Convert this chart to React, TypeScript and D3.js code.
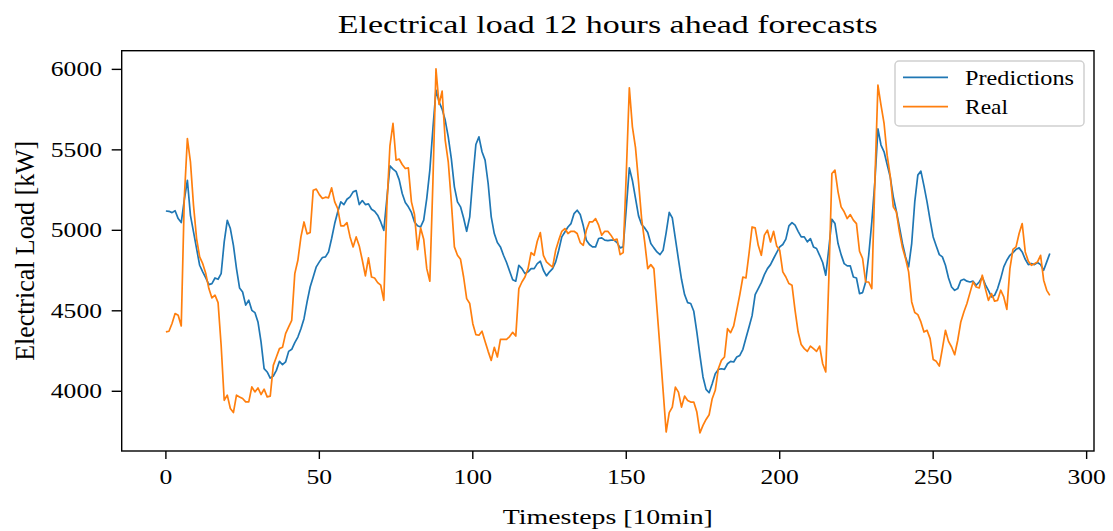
import React from "react";
import * as d3 from "d3";

const predictions: number[] = [
  5120, 5118, 5110, 5122, 5073, 5048, 5190, 5311, 5093, 4990,
  4886, 4783, 4742, 4704, 4663, 4669, 4704, 4696, 4731, 4928,
  5062, 5011, 4907, 4762, 4642, 4617, 4535, 4566, 4503, 4489,
  4431, 4307, 4141, 4120, 4082, 4095, 4130, 4186, 4165, 4182,
  4248, 4261, 4302, 4337, 4389, 4451, 4555, 4648, 4710, 4773,
  4804, 4831, 4835, 4866, 4949, 5042, 5115, 5177, 5160, 5193,
  5208, 5239, 5247, 5160, 5185, 5160, 5164, 5131, 5119, 5094,
  5052, 5000, 5198, 5400, 5380, 5365, 5315, 5229, 5173, 5146,
  5111, 5052, 5028, 5021, 5063, 5198, 5374, 5633, 5871, 5799,
  5753, 5685, 5581, 5446, 5270, 5177, 5146, 5077, 4994, 5084,
  5322, 5533, 5581, 5488, 5436, 5291, 5084, 4980, 4924, 4897,
  4845, 4800, 4746, 4693, 4684, 4783, 4762, 4731, 4742, 4762,
  4762, 4793, 4808, 4752, 4717, 4742, 4762, 4804, 4876, 4959,
  4990, 5021, 5042, 5104, 5125, 5098, 5028, 4939, 4912, 4897,
  4897, 4949, 4953, 4939, 4936, 4939, 4939, 4924, 4891, 4897,
  5135, 5388, 5310, 5200, 5090, 5036, 5015, 4986, 4918, 4891,
  4866, 4849, 4876, 4986, 5111, 5077, 4949, 4820, 4696, 4601,
  4551, 4545, 4497, 4368, 4223, 4089, 4012, 3991, 4047, 4109,
  4136, 4140, 4136, 4171, 4186, 4182, 4213, 4223, 4261, 4331,
  4400, 4470, 4600, 4638, 4675, 4725, 4762, 4787, 4825, 4862,
  4897, 4912, 4945, 5028, 5048, 5032, 4994, 4959, 4959, 4928,
  4949, 4897, 4887, 4845, 4800, 4721, 4887, 5069, 5042, 4918,
  4849, 4793, 4779, 4779, 4710, 4704, 4607, 4613, 4679, 4845,
  5052, 5301, 5630, 5530, 5488, 5409, 5332, 5208, 5119, 5021,
  4918, 4835, 4773, 4918, 5177, 5343, 5368, 5276, 5177, 5063,
  4959, 4903, 4849, 4835, 4783, 4704, 4648, 4627, 4638, 4688,
  4696, 4684, 4679, 4684, 4659, 4679, 4710, 4663, 4627, 4586,
  4596, 4638, 4700, 4773, 4814, 4845, 4862, 4882, 4891, 4866,
  4820, 4787, 4793, 4787, 4800, 4787, 4752, 4804, 4856,
];

const real: number[] = [
  4369, 4373, 4421, 4483, 4472, 4406, 5200, 5570, 5425, 5155,
  4949, 4835, 4793, 4731, 4638, 4580, 4597, 4551, 4286, 3944,
  3976, 3893, 3868, 3976, 3965, 3955, 3934, 3934, 4027, 3996,
  4021, 3980, 4013, 3965, 3970, 4161, 4213, 4265, 4273, 4358,
  4400, 4441, 4731, 4814, 4959, 5052, 4978, 4986, 5249, 5256,
  5222, 5198, 5206, 5202, 5264, 5177, 5135, 5028, 5028, 5048,
  4959, 4897, 4959, 4903, 4814, 4717, 4829, 4710, 4704, 4675,
  4659, 4565, 5150, 5525, 5664, 5436, 5443, 5409, 5384, 5388,
  5177, 5098, 4880, 5015, 4945, 4762, 4684, 5301, 6003, 5782,
  5865, 5560, 5426, 5177, 4897, 4845, 4820, 4710, 4576, 4545,
  4420, 4352, 4348, 4373, 4310, 4248, 4192, 4273, 4213, 4323,
  4323, 4323, 4340, 4366, 4343, 4638, 4679, 4710, 4762, 4862,
  4845, 4932, 4986, 4845, 4804, 4787, 4771, 4876, 4939, 4994,
  5011, 4980, 4994, 4994, 4980, 4924, 4907, 5001, 5052, 5052,
  5073, 5032, 4970, 4994, 4994, 4970, 4939, 4945, 4849, 4862,
  5350, 5886, 5643, 5515, 5301, 5073, 4928, 4762, 4787, 4762,
  4514, 4265, 4006, 3747, 3867, 3902, 4026, 3995, 3902, 3970,
  3943, 3933, 3933, 3871, 3742, 3788, 3825, 3854, 3954, 4006,
  4140, 4192, 4213, 4389, 4364, 4406, 4503, 4601, 4710, 4704,
  4856, 5021, 5015, 4907, 4845, 4970, 5001, 4928, 4994, 4903,
  4876, 4742, 4710, 4669, 4659, 4503, 4368, 4290, 4265, 4248,
  4281, 4265, 4248, 4281, 4171, 4120, 4700, 5353, 5374, 5239,
  5146, 5115, 5073, 5098, 5063, 5042, 4870, 4825, 4679, 4679,
  4638, 5301, 5902, 5778, 5664, 5467, 5339, 5146, 5115, 4990,
  4891, 4825, 4742, 4555, 4489, 4476, 4431, 4368, 4379, 4327,
  4198, 4186, 4157, 4265, 4379, 4310, 4275, 4227, 4317, 4431,
  4493, 4545, 4613, 4679, 4648, 4642, 4721, 4638, 4565, 4607,
  4560, 4565, 4628, 4586, 4509, 4762, 4882, 4897, 4980, 5042,
  4866, 4808, 4783, 4793, 4804, 4845, 4690, 4627, 4596,
];

const xTicks: number[] = [0, 50, 100, 150, 200, 250, 300];
const yTicks: number[] = [4000, 4500, 5000, 5500, 6000];
const seriesNames: string[] = ["Predictions", "Real"];
const seriesColors: string[] = ["#1f77b4", "#ff7f0e"];
const titleText = "Electrical load 12 hours ahead forecasts";
const xLabelText = "Timesteps [10min]";
const yLabelText = "Electrical Load [kW]";

const W = 1113;
const H = 531;
const plot = { left: 121.7, right: 1094, top: 50.7, bottom: 451 };
const FONT = "'Liberation Serif', 'DejaVu Serif', serif";
const DIGIT_W = 12.8;

export default function App() {
  const n = predictions.length;
  const xMargin = (n - 1) * 0.05;
  const x = d3
    .scaleLinear()
    .domain([-xMargin, n - 1 + xMargin])
    .range([plot.left, plot.right]);
  const all = predictions.concat(real);
  const lo = d3.min(all) as number;
  const hi = d3.max(all) as number;
  const yMargin = (hi - lo) * 0.05;
  const y = d3
    .scaleLinear()
    .domain([lo - yMargin, hi + yMargin])
    .range([plot.bottom, plot.top]);

  const line = d3
    .line<number>()
    .x((_, i) => x(i))
    .y((d) => y(d));

  const series = [predictions, real];
  const cx = (plot.left + plot.right) / 2;
  const cy = (plot.top + plot.bottom) / 2;

  return (
    <svg
      width={W}
      height={H}
      style={{ position: "absolute", left: 0, top: 0, background: "#fff" }}
      fontFamily={FONT}
    >
      <rect x={0} y={0} width={W} height={H} fill="#fff" />
      <defs>
        <clipPath id="plotclip">
          <rect
            x={plot.left}
            y={plot.top}
            width={plot.right - plot.left}
            height={plot.bottom - plot.top}
          />
        </clipPath>
      </defs>

      <g clipPath="url(#plotclip)">
        {series.map((s, i) => (
          <path
            key={seriesNames[i]}
            d={line(s) || ""}
            fill="none"
            stroke={seriesColors[i]}
            strokeWidth={1.7}
            strokeLinejoin="round"
          />
        ))}
      </g>

      <rect
        x={plot.left}
        y={plot.top}
        width={plot.right - plot.left}
        height={plot.bottom - plot.top}
        fill="none"
        stroke="#000"
        strokeWidth={1.4}
      />

      {xTicks.map((t) => (
        <g key={"x" + t}>
          <line
            x1={x(t)}
            x2={x(t)}
            y1={plot.bottom}
            y2={plot.bottom + 8}
            stroke="#000"
            strokeWidth={1.4}
          />
          <text
            x={x(t)}
            y={484}
            fontSize={21}
            textAnchor="middle"
            textLength={String(t).length * DIGIT_W}
            lengthAdjust="spacingAndGlyphs"
            fill="#000"
          >
            {t}
          </text>
        </g>
      ))}

      {yTicks.map((t) => (
        <g key={"y" + t}>
          <line
            x1={plot.left - 10}
            x2={plot.left}
            y1={y(t)}
            y2={y(t)}
            stroke="#000"
            strokeWidth={1.4}
          />
          <text
            x={102}
            y={y(t) + 7}
            fontSize={21}
            textAnchor="end"
            textLength={String(t).length * DIGIT_W}
            lengthAdjust="spacingAndGlyphs"
            fill="#000"
          >
            {t}
          </text>
        </g>
      ))}

      <text
        x={cx}
        y={33}
        fontSize={25}
        textAnchor="middle"
        textLength={540}
        lengthAdjust="spacingAndGlyphs"
        fill="#000"
      >
        {titleText}
      </text>

      <text
        x={cx}
        y={524}
        fontSize={22}
        textAnchor="middle"
        textLength={210}
        lengthAdjust="spacingAndGlyphs"
        fill="#000"
      >
        {xLabelText}
      </text>

      <g transform={`translate(34, ${cy}) scale(1.28, 1) rotate(-90)`}>
        <text
          x={0}
          y={0}
          fontSize={21}
          textAnchor="middle"
          textLength={220}
          lengthAdjust="spacingAndGlyphs"
          fill="#000"
        >
          {yLabelText}
        </text>
      </g>

      <g>
        <rect
          x={895}
          y={61}
          width={189}
          height={65}
          rx={4}
          ry={4}
          fill="#fff"
          fillOpacity={0.8}
          stroke="#d0d0d0"
          strokeWidth={1.5}
        />
        {seriesNames.map((name, i) => {
          const ly = 77.3 + i * 29.4;
          return (
            <g key={"lg" + name}>
              <line
                x1={903}
                x2={948}
                y1={ly}
                y2={ly}
                stroke={seriesColors[i]}
                strokeWidth={1.7}
              />
              <text
                x={965}
                y={ly + 7.5}
                fontSize={21}
                textLength={i === 0 ? 109 : 43}
                lengthAdjust="spacingAndGlyphs"
                fill="#000"
              >
                {name}
              </text>
            </g>
          );
        })}
      </g>
    </svg>
  );
}
